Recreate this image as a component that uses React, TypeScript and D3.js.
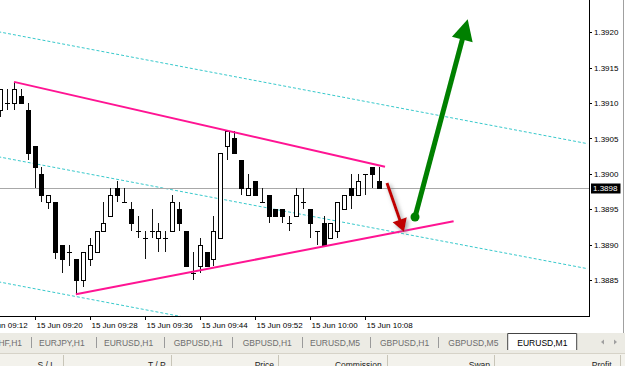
import React from "react";
import * as d3 from "d3";

// ---------- data (EURUSD, M1) ----------
const barTimes = [
  "09:15","09:16","09:17","09:18","09:19","09:20","09:21","09:22","09:23","09:24",
  "09:25","09:26","09:27","09:28","09:29","09:30","09:31","09:32","09:33","09:34",
  "09:35","09:36","09:37","09:38","09:39","09:40","09:41","09:42","09:43","09:44",
  "09:45","09:46","09:47","09:48","09:49","09:50","09:51","09:52","09:53","09:54",
  "09:55","09:56","09:57","09:58","09:59","10:00","10:01","10:02","10:03","10:04",
  "10:05","10:06","10:07","10:08","10:09","10:10",
];
const opens = [
  1.3909,1.3910,1.3910,1.3911,1.3909,1.3904,1.3900,1.3896,1.3896,1.3890,
  1.3889,1.3888,1.3885,1.3888,1.3889,1.3892,1.3894,1.3898,1.3896,1.3895,
  1.3892,1.3891,1.3892,1.3891,1.3891,1.3892,1.3895,1.3892,1.3886,1.3887,
  1.3889,1.3888,1.3891,1.3904,1.3905,1.3902,1.3897,1.3899,1.3896,1.3897,
  1.3895,1.3895,1.3893,1.3894,1.3896,1.3895,1.3892,1.3893,1.3891,1.3892,
  1.3895,1.3898,1.3897,1.3900,1.3901,1.3899,
];
const highs = [
  1.3912,1.3912,1.3913,1.3912,1.3910,1.3904,1.3901,1.3897,1.3896,1.3890,
  1.3890,1.3888,1.3889,1.3891,1.3892,1.3896,1.3898,1.3899,1.3898,1.3896,
  1.3894,1.3892,1.3895,1.3893,1.3892,1.3897,1.3896,1.3892,1.3889,1.3891,
  1.3889,1.3894,1.3903,1.3906,1.3906,1.3902,1.3900,1.3899,1.3898,1.3897,
  1.3895,1.3895,1.3894,1.3898,1.3898,1.3895,1.3892,1.3894,1.3893,1.3896,
  1.3897,1.3900,1.3900,1.3900,1.3901,1.3901,
];
const lows = [
  1.3908,1.3909,1.3909,1.3910,1.3902,1.3898,1.3896,1.3895,1.3888,1.3886,
  1.3887,1.3883,1.3884,1.3887,1.3889,1.3892,1.3894,1.3896,1.3896,1.3892,
  1.3891,1.3888,1.3891,1.3889,1.3889,1.3892,1.3892,1.3887,1.3885,1.3886,
  1.3887,1.3887,1.3891,1.3902,1.3903,1.3897,1.3897,1.3897,1.3896,1.3893,
  1.3894,1.3893,1.3892,1.3894,1.3895,1.3891,1.3890,1.3890,1.3891,1.3891,
  1.3895,1.3895,1.3897,1.3897,1.3898,1.3898,
];
const closes = [
  1.3912,1.3910,1.3912,1.3910,1.3903,1.3901,1.3897,1.3897,1.3889,1.3888,
  1.3889,1.3885,1.3889,1.3890,1.3892,1.3893,1.3897,1.3897,1.3896,1.3893,
  1.3892,1.3891,1.3892,1.3892,1.3891,1.3896,1.3893,1.3887,1.3886,1.3890,
  1.3887,1.3892,1.3903,1.3906,1.3903,1.3898,1.3898,1.3897,1.3896,1.3894,
  1.3894,1.3894,1.3893,1.3897,1.3896,1.3893,1.3892,1.3890,1.3893,1.3896,
  1.3897,1.3897,1.3899,1.3900,1.3900,1.3898,
];
const currentPrice = 1.3898;

const priceTicks = [1.3885, 1.389, 1.3895, 1.39, 1.3905, 1.391, 1.3915, 1.392];
const timeTickIdx = [-3, 5, 13, 21, 29, 37, 45, 53];
const timeTickLabels = [
  "15 Jun 09:12","15 Jun 09:20","15 Jun 09:28","15 Jun 09:36",
  "15 Jun 09:44","15 Jun 09:52","15 Jun 10:00","15 Jun 10:08",
];

// trend lines (bar index, price)
const upperTrendIdx = [2, 55.93];
const upperTrendPrice = [1.3913, 1.3901];
const lowerTrendIdx = [11, 65.9];
const lowerTrendPrice = [1.3883, 1.38933];

// regression channel (centre line anchors + deviation)
const channelIdx = [0, 85];
const channelMid = [1.390237, 1.388668];
const channelOffsets = [0.001766, 0, -0.001766];
const channelRange = [-1, 85.4];

// arrows
const redArrowIdx = [56.22, 58.69];
const redArrowPrice = [1.38987, 1.38918];
const greenArrowIdx = [60.29, 67.95];
const greenArrowPrice = [1.389391, 1.392184];

// terminal tabs / headers
const tabLabels = ["USDCHF,H1","EURJPY,H1","EURUSD,H1","GBPUSD,H1","GBPUSD,H1","EURUSD,M5","GBPUSD,H1","GBPUSD,M5"];
const activeTab = "EURUSD,M1";
const headerLabels = ["S / L", "T / P", "Price", "Commission", "Swap", "Profit"];

// ---------- layout ----------
const W = 625, H = 366;
const plotRight = 589, plotBottom = 316;
const tabTextX = [22, 39, 104, 173.7, 242.7, 310, 380, 448.3];
const tabSepX = [30.7, 95.7, 164.3, 232.3, 301.7, 370.3, 437.7];
const activeTabX = [507.7, 576.7];
const headerRightX = [55, 165.7, 274, 381.7, 490, 611.7];
const headerSepX = [63.3, 170.7, 278.3, 386.7, 494.3, 620];
const FONT = "'Liberation Sans', Arial, sans-serif";

function head(x1: number, y1: number, x2: number, y2: number, len: number, half: number) {
  const dx = x2 - x1, dy = y2 - y1;
  const L = Math.hypot(dx, dy);
  const ux = dx / L, uy = dy / L;
  const bx = x2 - ux * len, by = y2 - uy * len;
  const px = -uy, py = ux;
  return {
    bx: bx + ux * 2, by: by + uy * 2,
    pts: `${x2},${y2} ${bx + px * half},${by + py * half} ${bx - px * half},${by - py * half}`,
  };
}

export default function App() {
  const x = d3.scaleLinear().domain([0, 55]).range([0.2, 378.6]);
  const y = d3.scaleLinear().domain([1.3885, 1.392]).range([280.1, 32.3]);

  const line = d3.line<[number, number]>().x(d => x(d[0])).y(d => y(d[1]));

  const chanPrice = (i: number, off: number) =>
    channelMid[0] + (channelMid[1] - channelMid[0]) * ((i - channelIdx[0]) / (channelIdx[1] - channelIdx[0])) + off;

  const rx1 = x(redArrowIdx[0]), ry1 = y(redArrowPrice[0]);
  const rx2 = x(redArrowIdx[1]), ry2 = y(redArrowPrice[1]);
  const rh = head(rx1, ry1, rx2, ry2, 13, 7.5);
  const gx1 = x(greenArrowIdx[0]), gy1 = y(greenArrowPrice[0]);
  const gx2 = x(greenArrowIdx[1]), gy2 = y(greenArrowPrice[1]);
  const gh = head(gx1, gy1, gx2, gy2, 21, 10.7);

  return (
    <svg width={W} height={H} style={{ position: "absolute", left: 0, top: 0, display: "block" }}
      fontFamily={FONT}>
      <defs>
        <clipPath id="plot"><rect x={0} y={0} width={plotRight} height={plotBottom} /></clipPath>
        <filter id="shadow" x="-50%" y="-50%" width="200%" height="200%">
          <feDropShadow dx={2} dy={2} stdDeviation={2} floodColor="#777" floodOpacity={0.7} />
        </filter>
      </defs>
      <rect x={0} y={0} width={W} height={H} fill="#fff" />

      <g clipPath="url(#plot)">
        {/* channel */}
        {channelOffsets.map((off, k) => (
          <path key={k}
            d={line([[channelRange[0], chanPrice(channelRange[0], off)], [channelRange[1], chanPrice(channelRange[1], off)]])!}
            stroke="#38c9cc" strokeWidth={1} strokeDasharray="3,2" fill="none" />
        ))}
        {/* current price line */}
        <line x1={0} x2={plotRight} y1={Math.round(y(currentPrice)) + 0.5} y2={Math.round(y(currentPrice)) + 0.5}
          stroke="#a8a8a8" strokeWidth={1} />

        {/* candles */}
        {barTimes.map((t, i) => {
          const cx = Math.round(x(i));
          const o = opens[i], c = closes[i];
          const top = Math.round(y(Math.max(o, c)));
          const bot = Math.round(y(Math.min(o, c)));
          const hi = Math.round(y(highs[i]));
          const lo = Math.round(y(lows[i]));
          const wx = cx + 0.5;
          return (
            <g key={t}>
              <line x1={wx} x2={wx} y1={hi} y2={lo} stroke="#111" strokeWidth={1} />
              {o === c ? (
                <line x1={cx - 2} x2={cx + 3} y1={top + 0.5} y2={top + 0.5} stroke="#000" strokeWidth={1} />
              ) : c > o ? (
                <rect x={cx - 1.5} y={top + 0.5} width={4} height={bot - top} fill="#fff" stroke="#000" strokeWidth={1} />
              ) : (
                <rect x={cx - 2} y={top} width={5} height={bot - top + 1} fill="#000" />
              )}
            </g>
          );
        })}

        {/* trend lines */}
        <path d={line([[upperTrendIdx[0], upperTrendPrice[0]], [upperTrendIdx[1], upperTrendPrice[1]]])!}
          stroke="#ff1493" strokeWidth={2} fill="none" />
        <path d={line([[lowerTrendIdx[0], lowerTrendPrice[0]], [lowerTrendIdx[1], lowerTrendPrice[1]]])!}
          stroke="#ff1493" strokeWidth={2} fill="none" />

        {/* red arrow */}
        <g filter="url(#shadow)">
          <line x1={rx1} y1={ry1} x2={rh.bx} y2={rh.by} stroke="#c00000" strokeWidth={3} />
          <polygon points={rh.pts} fill="#c00000" />
        </g>
        {/* green arrow */}
        <g>
          <line x1={gx1} y1={gy1} x2={gh.bx} y2={gh.by} stroke="#008000" strokeWidth={5} />
          <polygon points={gh.pts} fill="#008000" />
          <circle cx={gx1} cy={gy1} r={4.5} fill="#008000" />
        </g>
      </g>

      {/* axes */}
      <line x1={plotRight + 0.5} x2={plotRight + 0.5} y1={0} y2={plotBottom + 1} stroke="#000" />
      <line x1={0} x2={plotRight + 1} y1={plotBottom + 0.5} y2={plotBottom + 0.5} stroke="#000" />
      {priceTicks.map(p => (
        <g key={p}>
          <line x1={plotRight + 1} x2={plotRight + 3} y1={Math.round(y(p)) + 0.5} y2={Math.round(y(p)) + 0.5} stroke="#000" />
          <text x={594} y={y(p) + 3} fontSize={8} fill="#000">{p.toFixed(4)}</text>
        </g>
      ))}
      <rect x={591} y={Math.round(y(currentPrice)) - 4.5} width={29.5} height={10} fill="#000" />
      <text x={593} y={y(currentPrice) + 3.3} fontSize={8} fill="#fff">{currentPrice.toFixed(4)}</text>

      {timeTickIdx.map((ti, k) => {
        const tx = Math.round(x(ti)) + 0.5;
        return (
          <g key={ti}>
            <line x1={tx} x2={tx} y1={plotBottom} y2={plotBottom + 4} stroke="#000" />
            <text x={tx + 1} y={327.5} fontSize={8} fill="#000">{timeTickLabels[k]}</text>
          </g>
        );
      })}

      {/* window border */}
      <line x1={623.5} x2={623.5} y1={0} y2={333} stroke="#a0a0a0" />

      {/* tab bar */}
      <rect x={0} y={333} width={W} height={20} fill="#ecebe4" />
      {tabLabels.map((t, k) => (
        <text key={k} x={tabTextX[k]} y={345.5} fontSize={8.5} fill="#6e6e6e"
          textAnchor={k === 0 ? "end" : "start"}>{t}</text>
      ))}
      {tabSepX.map((sx, k) => (
        <line key={k} x1={Math.round(sx) + 0.5} x2={Math.round(sx) + 0.5} y1={337} y2={348} stroke="#9a9a9a" />
      ))}
      <rect x={activeTabX[0]} y={333} width={activeTabX[1] - activeTabX[0]} height={17} fill="#fff" />
      <path d={`M${activeTabX[0]},350 V333.5 H${activeTabX[1]} V350`} stroke="#444" fill="none" />
      <text x={517.3} y={345.5} fontSize={8.5} fill="#000">{activeTab}</text>
      <polygon points="601,342 604,339.5 604,344.5" fill="#a0a0a0" />
      <polygon points="617,342 614,339.5 614,344.5" fill="#a0a0a0" />

      {/* terminal header */}
      <rect x={0} y={353} width={W} height={13} fill="#f3f2ec" />
      <line x1={0} x2={W} y1={353.5} y2={353.5} stroke="#d6d3c8" />
      {headerSepX.map((sx, k) => (
        <line key={k} x1={Math.round(sx) + 0.5} x2={Math.round(sx) + 0.5} y1={355} y2={H} stroke="#c8c5b8" />
      ))}
      {headerLabels.map((h, k) => (
        <text key={h} x={headerRightX[k]} y={367.5} fontSize={8.5} fill="#222" textAnchor="end">{h}</text>
      ))}
    </svg>
  );
}
